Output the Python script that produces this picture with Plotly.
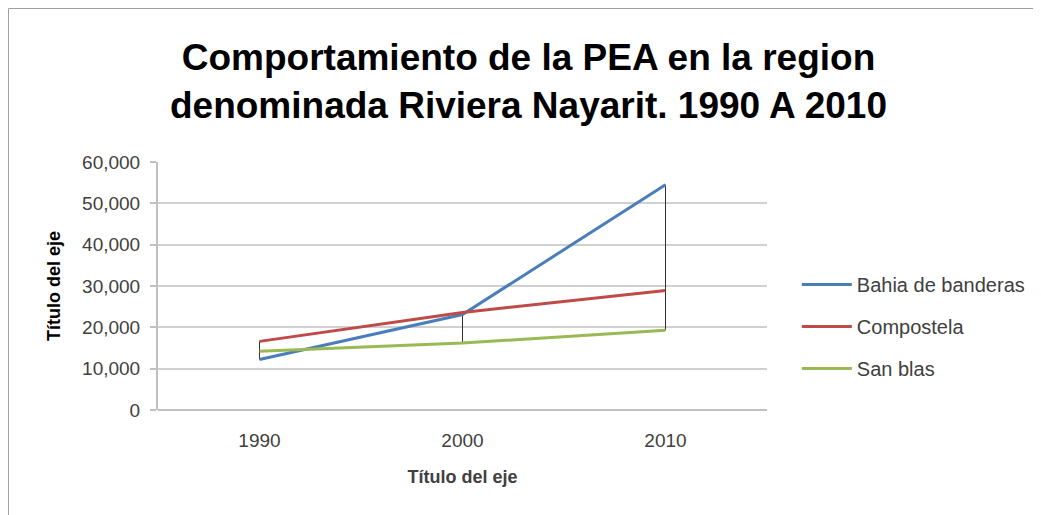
import plotly.graph_objects as go

years = ["1990", "2000", "2010"]
bahia = [12200, 23100, 54500]
compostela = [16600, 23600, 28900]
san_blas = [14200, 16200, 19300]
series_names = ["Bahia de banderas", "Compostela", "San blas"]
series_colors = ["#4a7ebb", "#be4b48", "#98b954"]
y_ticks = [0, 10000, 20000, 30000, 40000, 50000, 60000]

all_series = [bahia, compostela, san_blas]

L, T, W, H = 150, 154, 609, 248
FW, FH = 1041, 515

fig = go.Figure()

# high-low lines
hx, hy = [], []
for i, yr in enumerate(years):
    vals = [s[i] for s in all_series]
    hx += [yr, yr, None]
    hy += [min(vals), max(vals), None]
fig.add_trace(go.Scatter(x=hx, y=hy, mode="lines", line=dict(color="#303030", width=1),
                         showlegend=False, hoverinfo="skip"))

for name, vals, col in zip(series_names, all_series, series_colors):
    fig.add_trace(go.Scatter(x=years, y=vals, mode="lines", name=name, legendgroup=name,
                             line=dict(color=col, width=3)))

px = lambda x: (x - L) / W
py = lambda y: (T + H - y) / H

fig.update_layout(
    width=FW, height=FH,
    paper_bgcolor="white", plot_bgcolor="white",
    margin=dict(l=L, r=FW - L - W, t=T, b=FH - T - H),
    font=dict(family="Liberation Sans, Arial, sans-serif", color="#404040"),
    title=dict(text="<b>Comportamiento de la PEA en la region<br>denominada Riviera Nayarit. 1990 A 2010</b>",
               x=0.5, xanchor="center", y=0.88, yanchor="top",
               font=dict(size=37, color="#000000")),
    showlegend=True,
    legend=dict(x=1.049, xanchor="left", y=0.585, yanchor="top",
                font=dict(size=20, color="#404040"), traceorder="grouped",
                tracegroupgap=13, itemwidth=50, bgcolor="rgba(0,0,0,0)"),
    xaxis=dict(type="category", range=[-0.5, 2.5], showgrid=False,
               showline=False, ticks="", tickfont=dict(size=19, color="#404040"),
               ticklabelstandoff=17,
               title=dict(text="<b>Título del eje</b>", font=dict(size=18, color="#404040"), standoff=20)),
    yaxis=dict(range=[0, 60000], tickvals=y_ticks, tickformat=",d",
               showgrid=True, gridcolor="#d0d0d0", gridwidth=2,
               zeroline=True, zerolinecolor="#c0c0c0", zerolinewidth=2,
               showline=True, linecolor="#c0c0c0", linewidth=2,
               ticks="outside", ticklen=6, tickcolor="#c0c0c0", tickwidth=2,
               ticklabelstandoff=6,
               tickfont=dict(size=19, color="#404040"),
               title=dict(text="<b>Título del eje</b>", font=dict(size=18, color="#000000"), standoff=17)),
    shapes=[dict(type="line", xref="paper", yref="paper",
                 x0=px(0.5), x1=px(0.5), y0=py(0.5), y1=py(FH),
                 line=dict(color="#a0a0a0", width=1)),
            dict(type="line", xref="paper", yref="paper",
                 x0=px(0.5), x1=px(FW), y0=py(0.5), y1=py(0.5),
                 line=dict(color="#a0a0a0", width=1))],
)

fig.write_html("out.html")
